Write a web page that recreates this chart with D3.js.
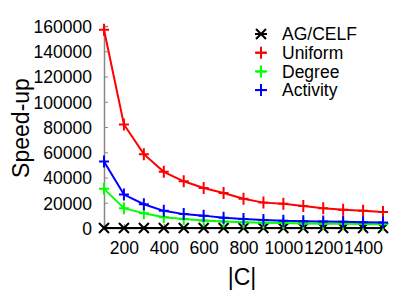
<!DOCTYPE html>
<html>
<head>
<meta charset="utf-8">
<script src="https://cdn.jsdelivr.net/npm/d3@7"></script>
<style>
  body { margin: 0; background: #fff; }
  text { font-family: "Liberation Sans", Arial, sans-serif; }
</style>
</head>
<body>
<div id="chart"></div>
<script>
// 1: DATA
const sizes = [100, 200, 300, 400, 500, 600, 700, 800, 900, 1000, 1100, 1200, 1300, 1400, 1500];
const agCelf = [1, 1, 1, 1, 1, 1, 1, 1, 1, 1, 1, 1, 1, 1, 1];
const uniform = [157000, 82000, 58500, 44500, 37000, 31700, 27700, 23200, 20100, 19300, 17400, 15600, 14500, 13700, 12700];
const degree = [31000, 15700, 11600, 8500, 7200, 5900, 5100, 4600, 4100, 3900, 3600, 3300, 3300, 3100, 3000];
const activity = [52700, 26500, 18800, 13600, 11000, 9800, 8200, 7200, 6400, 5700, 5400, 5100, 4900, 4600, 4400];
const xTicks = [200, 400, 600, 800, 1000, 1200, 1400];
const yTicks = [0, 20000, 40000, 60000, 80000, 100000, 120000, 140000, 160000];

const seriesList = [
    { name: "AG/CELF", values: agCelf, color: "#000000", marker: "x" },
    { name: "Uniform", values: uniform, color: "#ff0000", marker: "+" },
    { name: "Degree", values: degree, color: "#00ff00", marker: "+" },
    { name: "Activity", values: activity, color: "#0000ff", marker: "+" }
];

// 2: SETUP
const W = 415, H = 291;
const plotLeft = 104, plotRight = 383, plotTop = 26, plotBottom = 228;

const svg = d3.select("#chart")
    .append("svg")
    .attr("width", W)
    .attr("height", H);

const x = d3.scaleLinear().domain([100, 1500]).range([plotLeft, plotRight]);
const y = d3.scaleLinear().domain([0, 160000]).range([plotBottom, plotTop]);

// axes (gnuplot style: left + bottom border, gray, ticks inward)
const yAxis = svg.append("g")
    .attr("transform", `translate(${plotLeft},0)`)
    .call(d3.axisLeft(y).tickValues(yTicks).tickSize(-4).tickPadding(12).tickFormat(d3.format("d")));
yAxis.select(".domain").attr("stroke", "#888").attr("stroke-width", 1.5);
yAxis.selectAll(".tick line").attr("stroke", "#888");
yAxis.selectAll(".tick text").attr("fill", "#000").style("font-size", "17.5px").attr("dy", "0.36em");

const xAxis = svg.append("g")
    .attr("transform", `translate(0,${plotBottom})`)
    .call(d3.axisBottom(x).tickValues(xTicks).tickSize(-4).tickPadding(14).tickFormat(d3.format("d")));
xAxis.select(".domain").attr("stroke", "#888").attr("stroke-width", 1.5);
xAxis.selectAll(".tick line").attr("stroke", "#888");
xAxis.selectAll(".tick text").attr("fill", "#000").style("font-size", "17.5px");

// axis titles
svg.append("text")
    .attr("transform", "rotate(-90)")
    .attr("x", -128)
    .attr("y", 29)
    .attr("text-anchor", "middle")
    .style("font-size", "23px")
    .text("Speed-up");

svg.append("text")
    .attr("x", 242)
    .attr("y", 285)
    .attr("text-anchor", "middle")
    .style("font-size", "23px")
    .text("|C|");

// 3: LINES + MARKERS
const line = d3.line()
    .x((d, i) => x(sizes[i]))
    .y(d => y(d));

function drawMarker(g, type, cx, cy, color) {
    const s = 5;
    if (type === "x") {
        g.append("path")
            .attr("d", `M${cx - s},${cy - s}L${cx + s},${cy + s}M${cx - s},${cy + s}L${cx + s},${cy - s}`)
            .attr("stroke", color).attr("stroke-width", 2).attr("fill", "none");
    } else {
        g.append("path")
            .attr("d", `M${cx - s},${cy}L${cx + s},${cy}M${cx},${cy - s - 1}L${cx},${cy + s + 1}`)
            .attr("stroke", color).attr("stroke-width", 2).attr("fill", "none");
    }
}

seriesList.forEach(s => {
    const g = svg.append("g");
    g.append("path")
        .datum(s.values)
        .attr("fill", "none")
        .attr("stroke", s.color)
        .attr("stroke-width", 2)
        .attr("d", line);
    s.values.forEach((v, i) => drawMarker(g, s.marker, x(sizes[i]), y(v), s.color));
});

// 4: LEGEND
const legend = svg.append("g");
seriesList.forEach((s, i) => {
    const ly = 34 + i * 18.7;
    legend.append("line")
        .attr("x1", 255).attr("x2", 267)
        .attr("y1", ly).attr("y2", ly)
        .attr("stroke", s.color)
        .attr("stroke-width", 2);
    drawMarker(legend, s.marker, 261, ly, s.color);
    legend.append("text")
        .attr("x", 282)
        .attr("y", ly)
        .attr("dy", "0.36em")
        .style("font-size", "17.5px")
        .text(s.name);
});
</script>
</body>
</html>
